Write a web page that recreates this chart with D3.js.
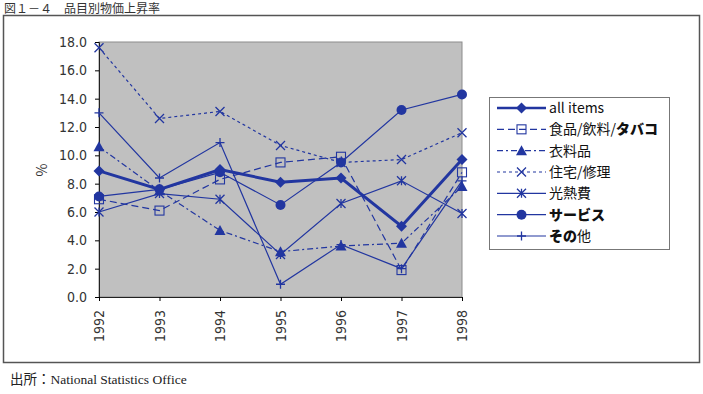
<!DOCTYPE html>
<html>
<head>
<meta charset="utf-8">
<script src="https://cdn.jsdelivr.net/npm/d3@7"></script>
<style>
  body { margin: 0; background: #fff; }
  svg { display: block; }
</style>
</head>
<body>
<div id="viz"></div>
<script>
// years on the x axis
var years = ['1992', '1993', '1994', '1995', '1996', '1997', '1998'];
var yTicks = [0, 2, 4, 6, 8, 10, 12, 14, 16, 18];

// series values (%)
var allItems = [8.9, 7.6, 9.0, 8.1, 8.4, 5.0, 9.7];
var food     = [6.9, 6.1, 8.3, 9.5, 9.9, 1.9, 8.8];
var clothing = [10.6, 7.5, 4.7, 3.2, 3.6, 3.8, 7.8];
var housing  = [17.6, 12.6, 13.1, 10.7, 9.5, 9.7, 11.6];
var energy   = [6.0, 7.3, 6.9, 3.0, 6.6, 8.2, 5.9];
var services = [7.1, 7.6, 8.8, 6.5, 9.5, 13.2, 14.3];
var other    = [13.0, 8.4, 10.9, 0.9, 3.7, 2.0, 8.2];

var seriesNames = ['all items', '食品/飲料/タバコ', '衣料品', '住宅/修理', '光熱費', 'サービス', 'その他'];
var seriesValues = [allItems, food, clothing, housing, energy, services, other];

var blue = '#2236a0';
var styles = [
  {w: 3,   dash: null,        marker: 'diamond'},
  {w: 1.2, dash: '7,4',       marker: 'square'},
  {w: 1.2, dash: '6,3,2,3',   marker: 'triangle'},
  {w: 1.2, dash: '3,3',       marker: 'cross'},
  {w: 1.2, dash: null,        marker: 'asterisk'},
  {w: 1.2, dash: null,        marker: 'circle'},
  {w: 1.2, dash: null,        marker: 'plus'}
];

var width = 703, height = 394;
var margin = {top: 42, right: 241, bottom: 97, left: 99};

var svg = d3.select('#viz').append('svg')
  .attr('width', width)
  .attr('height', height)
  .style('font-family', '"Noto Sans CJK JP", "Noto Sans", sans-serif');

// title (sits at the very top, just above the frame)
svg.append('text')
  .attr('x', 4).attr('y', 13)
  .attr('font-size', 12).attr('fill', '#333')
  .text('図１－４　品目別物価上昇率');

// outer frame
svg.append('rect')
  .attr('x', 3.5).attr('y', 15.5)
  .attr('width', 696).attr('height', 347)
  .attr('fill', 'none').attr('stroke', '#555').attr('stroke-width', 1.5);

var x = d3.scalePoint()
  .domain(years)
  .range([margin.left, width - margin.right]);

var y = d3.scaleLinear()
  .domain([0, 18])
  .range([height - margin.bottom, margin.top]);

// plot area
svg.append('rect')
  .attr('x', margin.left).attr('y', margin.top)
  .attr('width', width - margin.right - margin.left)
  .attr('height', height - margin.bottom - margin.top)
  .attr('fill', '#c0c0c0').attr('stroke', '#8c8c8c');

// y axis
var yAxis = svg.append('g')
  .attr('transform', 'translate(' + margin.left + ',0)')
  .call(d3.axisLeft(y).tickValues(yTicks).tickSize(4).tickPadding(8).tickFormat(d3.format('.1f')));
yAxis.select('.domain').attr('stroke', '#222');
yAxis.selectAll('text').attr('font-size', 14).attr('fill', '#333')
  .style('font-family', '"DejaVu Sans Condensed", "DejaVu Sans", sans-serif');

// x axis
var xAxis = svg.append('g')
  .attr('transform', 'translate(0,' + (height - margin.bottom) + ')')
  .call(d3.axisBottom(x).tickSize(4).tickSizeOuter(0));
xAxis.select('.domain').attr('stroke', '#222');
xAxis.selectAll('text')
  .attr('font-size', 14).attr('fill', '#333')
  .style('font-family', '"DejaVu Sans Condensed", "DejaVu Sans", sans-serif')
  .attr('text-anchor', 'end')
  .attr('dy', '0.35em')
  .attr('transform', 'translate(0,9) rotate(-90)')
  .attr('x', -4).attr('y', 0);

// y axis title
svg.append('text')
  .attr('transform', 'translate(47,170) rotate(-90)')
  .attr('text-anchor', 'middle')
  .attr('font-size', 14).attr('fill', '#333')
  .text('%');

function drawMarker(g, kind, cx, cy) {
  var s = 4.5;
  if (kind === 'diamond') {
    g.append('path').attr('d', 'M' + cx + ',' + (cy - 5.5) + 'L' + (cx + 5.5) + ',' + cy + 'L' + cx + ',' + (cy + 5.5) + 'L' + (cx - 5.5) + ',' + cy + 'Z')
      .attr('fill', blue);
  } else if (kind === 'square') {
    g.append('rect').attr('x', cx - s).attr('y', cy - s).attr('width', 2 * s).attr('height', 2 * s)
      .attr('fill', 'none').attr('stroke', blue).attr('stroke-width', 1.1);
  } else if (kind === 'triangle') {
    g.append('path').attr('d', 'M' + cx + ',' + (cy - 5.5) + 'L' + (cx + 5.5) + ',' + (cy + 4.5) + 'L' + (cx - 5.5) + ',' + (cy + 4.5) + 'Z')
      .attr('fill', blue);
  } else if (kind === 'cross') {
    g.append('path').attr('d', 'M' + (cx - s) + ',' + (cy - s) + 'L' + (cx + s) + ',' + (cy + s) + 'M' + (cx - s) + ',' + (cy + s) + 'L' + (cx + s) + ',' + (cy - s))
      .attr('stroke', blue).attr('stroke-width', 1.3);
  } else if (kind === 'asterisk') {
    g.append('path').attr('d', 'M' + (cx - s) + ',' + (cy - s) + 'L' + (cx + s) + ',' + (cy + s) + 'M' + (cx - s) + ',' + (cy + s) + 'L' + (cx + s) + ',' + (cy - s) + 'M' + cx + ',' + (cy - s) + 'L' + cx + ',' + (cy + s))
      .attr('stroke', blue).attr('stroke-width', 1.3);
  } else if (kind === 'circle') {
    g.append('circle').attr('cx', cx).attr('cy', cy).attr('r', 5).attr('fill', blue);
  } else if (kind === 'plus') {
    g.append('path').attr('d', 'M' + (cx - s) + ',' + cy + 'L' + (cx + s) + ',' + cy + 'M' + cx + ',' + (cy - s) + 'L' + cx + ',' + (cy + s))
      .attr('stroke', blue).attr('stroke-width', 1.3);
  }
}

var line = d3.line()
  .x(function(d, i) { return x(years[i]); })
  .y(function(d) { return y(d); });

// draw series, thick all-items line last so it sits on top
var order = [6, 5, 4, 3, 2, 1, 0];
order.forEach(function(k) {
  var st = styles[k];
  var g = svg.append('g');
  g.append('path')
    .datum(seriesValues[k])
    .attr('d', line)
    .attr('fill', 'none')
    .attr('stroke', blue)
    .attr('stroke-width', st.w)
    .attr('stroke-dasharray', st.dash);
  seriesValues[k].forEach(function(v, i) {
    drawMarker(g, st.marker, x(years[i]), y(v));
  });
});

// legend
var lg = svg.append('g');
lg.append('rect')
  .attr('x', 489.5).attr('y', 97.5).attr('width', 180).attr('height', 152)
  .attr('fill', '#fff').attr('stroke', '#777');

var legendY = d3.scalePoint().domain(seriesNames).range([108, 236]);

seriesNames.forEach(function(name, k) {
  var st = styles[k];
  var ly = legendY(name);
  var g = lg.append('g');
  g.append('line')
    .attr('x1', 497).attr('x2', 546).attr('y1', ly).attr('y2', ly)
    .attr('stroke', blue).attr('stroke-width', k === 0 ? 2.5 : 1.2)
    .attr('stroke-dasharray', st.dash);
  drawMarker(g, st.marker, 521.5, ly);
  var t = g.append('text')
    .attr('x', 549).attr('y', ly).attr('dy', '0.35em')
    .attr('font-size', 14).attr('fill', '#111');
  // katakana parts appear in a heavy face in the source
  var parts = name.split(/(タバコ|サービス|その)/);
  parts.forEach(function(p) {
    if (!p) return;
    var bold = /タバコ|サービス|その/.test(p);
    t.append('tspan').text(p).attr('font-weight', bold ? 900 : 400);
  });
});

// source note
svg.append('text')
  .attr('x', 10).attr('y', 384)
  .attr('font-size', 13.5).attr('fill', '#222')
  .style('font-family', '"Liberation Serif", "Noto Sans CJK JP", serif')
  .text('出所：National Statistics Office');
</script>
</body>
</html>
